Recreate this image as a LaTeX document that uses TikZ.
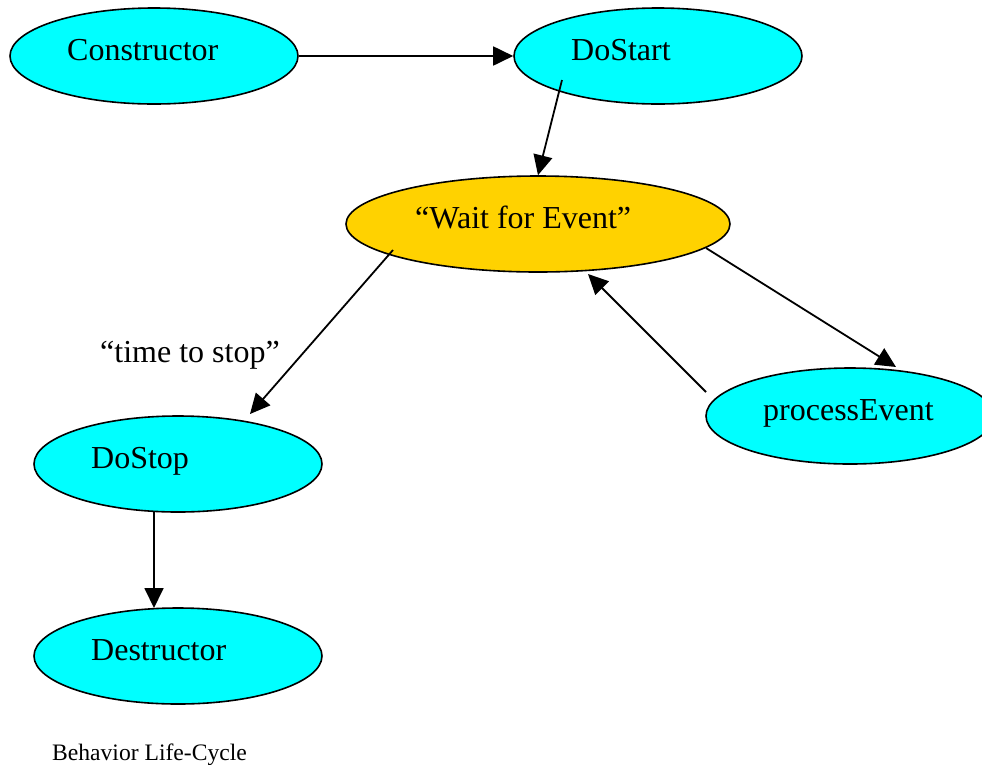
\documentclass[tikz,border=0pt]{standalone}
\usepackage{fontspec}
\setmainfont{Liberation Serif}
\usetikzlibrary{shapes.geometric,arrows.meta,calc}
\definecolor{nodecyan}{RGB}{0,255,255}
\definecolor{waitgold}{RGB}{255,210,0}
\begin{document}
\begin{tikzpicture}[x=1pt,y=-1pt,
  state/.style={ellipse, draw=black, line width=1.6pt, fill=nodecyan, minimum width=288pt, minimum height=96pt, inner sep=0pt},
  lbl/.style={anchor=base west, inner sep=0pt, font=\fontsize{32}{38}\selectfont},
  conn/.style={line width=1.8pt, -{Triangle[length=20pt,width=19pt]}}]
\clip (0,0) rectangle (982,764);
\fill[white] (0,0) rectangle (982,764);
% nodes
\node[state] (con) at (154,56) {};
\node[state] (dost) at (658,56) {};
\node[state, fill=waitgold, minimum width=384pt] (wait) at (538,224) {};
\node[state] (pe) at (850,416) {};
\node[state] (dostop) at (178,464) {};
\node[state] (destr) at (178,656) {};
% labels
\node[lbl] (tcon) at (67,60) {Constructor};
\node[lbl] (tdost) at (571,60) {DoStart};
\node[lbl] (twait) at (415,228) {“Wait for Event”};
\node[lbl] (tpe) at (763,420) {processEvent};
\node[lbl] (tdostop) at (91,468) {DoStop};
\node[lbl] (tdestr) at (91,660) {Destructor};
\node[lbl] (tstop) at (100,362) {“time to stop”};
\node[anchor=base west, inner sep=0pt, font=\fontsize{23.6}{28}\selectfont] (cap) at (52,760) {Behavior Life-Cycle};
% connectors
\draw[conn] (con.east) -- (dost.west);
\draw[conn] ($(dost)+(-96,24)$) -- (wait.north);
\draw[conn] ($(wait)+(-145,26)$) -- ($(dostop)+(72,-50)$);
\draw[conn] ($(wait)+(168,24)$) -- ($(pe)+(46,-49)$);
\draw[conn] ($(pe)+(-144,-24)$) -- ($(wait)+(50,50)$);
\draw[conn] ($(dostop)+(-24,48)$) -- ($(destr)+(-24,-48)$);
\end{tikzpicture}
\end{document}
